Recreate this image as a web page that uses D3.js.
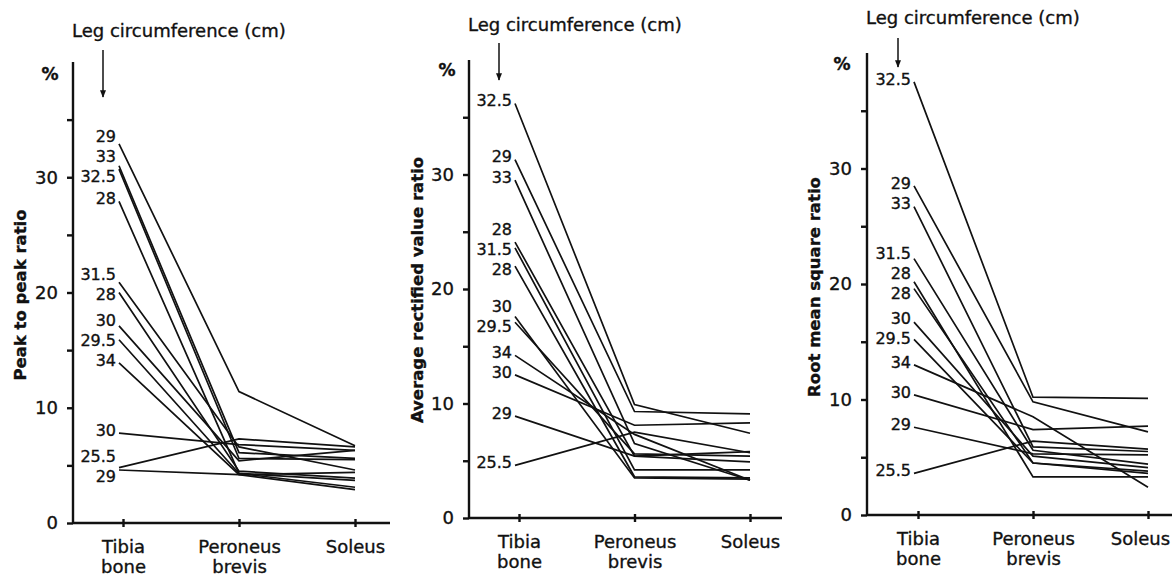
<!doctype html>
<html lang="en">
<head>
<meta charset="UTF-8" />
<title>Leg circumference ratios</title>
<script src="https://cdn.jsdelivr.net/npm/d3@7"></script>
<style>
  body { margin: 0; background: #fff; }
  svg text { font-family: "DejaVu Sans", "Liberation Sans", sans-serif; fill: #111; stroke: #111; stroke-width: 0.35; }
  .axis path, .axis line { stroke: #111; stroke-width: 2.4; }
  .axis text { font-size: 18px; }
  .series { fill: none; stroke: #111; stroke-width: 1.7; }
</style>
</head>
<body>
<svg id="chart" width="1172" height="579"></svg>
<script>
// muscles along the x axis
const categories = ["Tibia bone", "Peroneus brevis", "Soleus"];
const yTitles = ["Peak to peak ratio", "Average rectified value ratio", "Root mean square ratio"];

// panel 1: peak to peak ratio (%)
const p2pLabels   = ["29", "33", "32.5", "28", "31.5", "28", "30", "29.5", "34", "30", "25.5", "29"];
const p2pTibia    = [32.9, 31.0, 30.7, 27.9, 20.9, 20.0, 17.1, 15.9, 13.9, 7.8, 4.8, 4.6];
const p2pPeroneus = [11.4, 6.1, 5.6, 4.3, 6.6, 4.5, 5.4, 4.3, 4.2, 6.8, 7.3, 4.2];
const p2pSoleus   = [6.7, 5.6, 5.5, 3.1, 4.6, 3.9, 6.3, 3.7, 2.9, 6.3, 6.6, 4.4];

// panel 2: average rectified value ratio (%)
const arvLabels   = ["32.5", "29", "33", "28", "31.5", "28", "30", "29.5", "34", "30", "29", "25.5"];
const arvTibia    = [36.2, 31.3, 29.5, 24.1, 23.6, 22.0, 17.6, 17.1, 14.2, 12.5, 8.9, 4.6];
const arvPeroneus = [9.9, 9.3, 6.5, 5.4, 4.2, 3.6, 3.5, 5.6, 7.3, 8.1, 5.4, 7.5];
const arvSoleus   = [7.4, 9.1, 3.3, 4.9, 4.2, 3.5, 3.4, 5.4, 3.3, 8.3, 5.8, 5.7];

// panel 3: root mean square ratio (%)
const rmsLabels   = ["32.5", "29", "33", "31.5", "28", "28", "30", "29.5", "34", "30", "29", "25.5"];
const rmsTibia    = [37.5, 28.5, 26.7, 22.2, 20.2, 19.6, 16.7, 15.2, 13.0, 10.4, 7.6, 3.6];
const rmsPeroneus = [10.2, 9.8, 5.9, 5.6, 3.3, 4.5, 5.1, 4.5, 8.5, 7.4, 5.3, 6.4];
const rmsSoleus   = [10.1, 7.2, 5.5, 4.4, 3.3, 3.6, 4.1, 3.8, 2.4, 7.7, 5.2, 5.7];

const yTicks = [0, 5, 10, 15, 20, 25, 30, 35];

const panels = [
  { labels: p2pLabels, cols: [p2pTibia, p2pPeroneus, p2pSoleus], axisX: 73, axisEnd: 390, first: 123, last: 355, bottom: 523, top: 62, titleY: 37, arrowTop: 50, arrowTip: 97, pct: [50, 80], yTitle: [20, 295] },
  { labels: arvLabels, cols: [arvTibia, arvPeroneus, arvSoleus], axisX: 469, axisEnd: 782, first: 519, last: 750, bottom: 518, top: 60, titleY: 31, arrowTop: 43, arrowTip: 80, pct: [447, 76], yTitle: [417, 290] },
  { labels: rmsLabels, cols: [rmsTibia, rmsPeroneus, rmsSoleus], axisX: 867, axisEnd: 1172, first: 918, last: 1148, bottom: 515, top: 53, titleY: 24, arrowTop: 38, arrowTip: 67, pct: [842, 70], yTitle: [814, 287] }
];

const svg = d3.select("#chart");
svg.append("defs").append("marker")
    .attr("id", "arrow").attr("viewBox", "0 0 10 10")
    .attr("refX", 9).attr("refY", 5)
    .attr("markerWidth", 5).attr("markerHeight", 7)
    .attr("orient", "auto")
  .append("path").attr("d", "M0,1 L10,5 L0,9 Z").attr("fill", "#111");

// spread the start labels so they don't overlap
const spread = (ys, gap) => {
  const out = ys.slice();
  for (let it = 0; it < 60; it++) {
    for (let i = 1; i < out.length; i++) {
      const d = out[i] - out[i - 1];
      if (d < gap) {
        const push = (gap - d) / 2;
        out[i - 1] -= push;
        out[i] += push;
      }
    }
  }
  return out;
};

panels.forEach((p, pi) => {
  const g = svg.append("g");
  const x = d3.scalePoint().domain(categories).range([p.first, p.last]);
  const y = d3.scaleLinear().domain([0, 40]).range([p.bottom, p.top]);

  // y axis
  g.append("g").attr("class", "axis")
      .attr("transform", `translate(${p.axisX},0)`)
      .call(d3.axisLeft(y).tickValues(yTicks).tickSize(6).tickPadding(9)
        .tickFormat(d => d % 10 === 0 ? d : ""))
      .call(a => a.select(".domain").attr("d", `M0,${p.bottom}V${p.top}`))
      .call(a => a.selectAll("text").attr("font-family", null));

  // x axis
  const xa = g.append("g").attr("class", "axis")
      .attr("transform", `translate(0,${p.bottom})`)
      .call(d3.axisBottom(x).tickSize(4).tickFormat(""));
  xa.select(".domain").attr("d", `M${p.axisX},0H${p.axisEnd}`);
  xa.selectAll(".tick line").attr("y1", -4);
  xa.selectAll(".tick").each(function (d) {
    // last label sits right at the page edge, keep it inside
    const edge = pi === 2 && d === "Soleus" ? -8 : 0;
    const t = d3.select(this).append("text")
        .attr("text-anchor", "middle").attr("y", 30).attr("font-size", 16.5);
    d.split(" ").forEach((w, i) => t.append("tspan").attr("x", edge).attr("dy", i ? 20 : 0).text(w));
  });

  // series
  const rows = p.labels.map((lab, i) => ({ lab, vals: p.cols.map(c => c[i]) }));
  const line = d3.line().x((v, j) => x(categories[j]) + (j === 0 ? -4 : 0)).y(v => y(v));
  g.selectAll(".series").data(rows).join("path")
      .attr("class", "series").attr("d", r => line(r.vals));

  const ly = spread(rows.map(r => y(r.vals[0]) - 3), 20);
  g.selectAll(".lab").data(rows).join("text")
      .attr("class", "lab")
      .attr("x", x(categories[0]) - 7)
      .attr("y", (r, i) => ly[i])
      .attr("dy", "0.36em")
      .attr("text-anchor", "end")
      .attr("font-size", 16)
      .text(r => r.lab);

  // headings
  g.append("text").attr("x", p.axisX - 1).attr("y", p.titleY)
      .attr("font-size", 18).text("Leg circumference (cm)");
  const ax = x(categories[0]) - 20;
  g.append("line").attr("x1", ax).attr("x2", ax)
      .attr("y1", p.arrowTop).attr("y2", p.arrowTip)
      .attr("stroke", "#111").attr("stroke-width", 1.5)
      .attr("marker-end", "url(#arrow)");
  g.append("text").attr("x", p.pct[0]).attr("y", p.pct[1])
      .attr("font-size", 17).attr("font-weight", "bold").attr("text-anchor", "middle").text("%");
  g.append("text")
      .attr("transform", `translate(${p.yTitle[0]},${p.yTitle[1]}) rotate(-90)`)
      .attr("text-anchor", "middle").attr("dy", "0.35em")
      .attr("font-size", 16.5).attr("font-weight", "bold")
      .text(yTitles[pi]);
});
</script>
</body>
</html>
